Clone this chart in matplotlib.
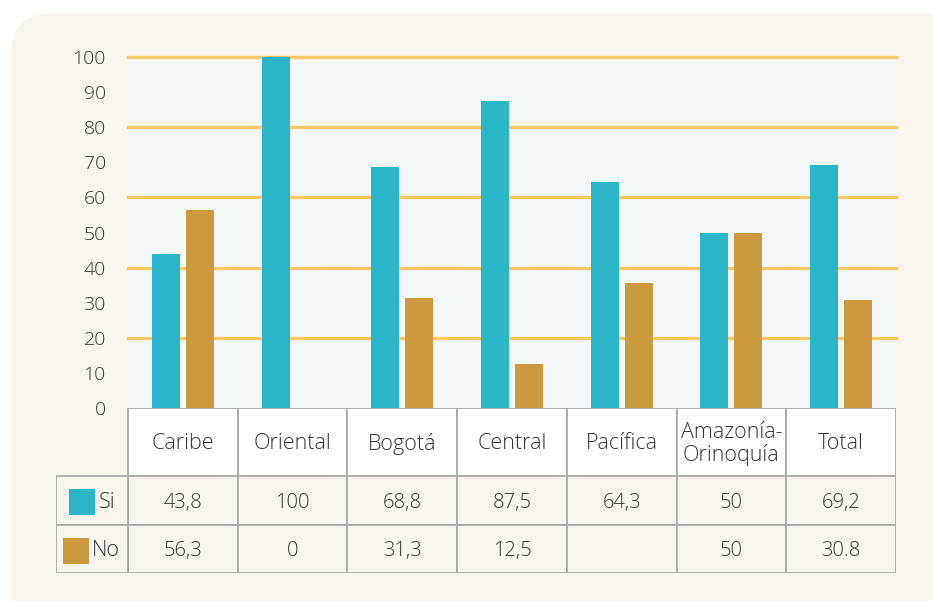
import matplotlib.pyplot as plt
from matplotlib.patches import FancyBboxPatch, Rectangle

# data
regions = ['Caribe', 'Oriental', 'Bogotá', 'Central', 'Pacífica', 'Amazonía-\nOrinoquía', 'Total']
si = [43.8, 100, 68.8, 87.5, 64.3, 50, 69.2]
no = [56.3, 0, 31.3, 12.5, 35.7, 50, 30.8]
si_labels = ['43,8', '100', '68,8', '87,5', '64,3', '50', '69,2']
no_labels = ['56,3', '0', '31,3', '12,5', '', '50', '30.8']
yticks = list(range(0, 101, 10))

c_si = '#2bb5c8'
c_no = '#cc9a3e'
txt = '#333333'
plt.rcParams['font.family'] = ['Open Sans', 'DejaVu Sans']
plt.rcParams['font.weight'] = 'light'

W, H = 933, 601
fig = plt.figure(figsize=(W / 100, H / 100), dpi=100)
fig.patch.set_facecolor('white')


def fx(px):
    return px / W


def fy(py):
    return 1 - py / H


# cream rounded panel
panel = FancyBboxPatch((fx(11), fy(640)), fx(960), fy(13) - fy(640),
                       boxstyle='round,pad=0,rounding_size=0.045',
                       transform=fig.transFigure, facecolor='#f8f5ee',
                       edgecolor='none', mutation_aspect=W / H, zorder=-5)
fig.patches.append(panel)

# bar plot area
ax = fig.add_axes([fx(128), fy(408), fx(896) - fx(128), fy(57) - fy(408)])
ax.set_facecolor('#f1f8f7')
x = [i + 0.5 for i in range(len(regions))]
bw = 0.255
ax.bar([i - 0.155 for i in x], si, width=bw, color=c_si, zorder=3)
ax.bar([i + 0.155 for i in x], no, width=bw, color=c_no, zorder=3)
for g in range(20, 101, 20):
    ax.axhline(g, color='#ffc766', lw=2.4, zorder=2, clip_on=False)
ax.set_xlim(0, 7)
ax.set_ylim(0, 100)
ax.set_yticks(yticks)
ax.set_yticklabels([str(t) for t in yticks], fontsize=14, color=txt)
ax.tick_params(axis='y', length=0, pad=16)
ax.set_xticks([])
for s in ax.spines.values():
    s.set_visible(False)

# data table below
at = fig.add_axes([fx(56), fy(573), fx(896) - fx(56), fy(408) - fy(573)])
at.set_xlim(-0.656, 7)
at.set_ylim(573, 408)
at.axis('off')
grid_c = '#aaaaaa'
for i in range(len(regions)):
    at.add_patch(Rectangle((i, 408), 1, 68, facecolor='white', edgecolor=grid_c, lw=1.3))
    at.text(i + 0.5, 444, regions[i], ha='center', va='center', fontsize=15.5, color=txt,
            linespacing=1.05)
    at.add_patch(Rectangle((i, 476), 1, 49, facecolor='#f8f5ee', edgecolor=grid_c, lw=1.3))
    at.text(i + 0.5, 503, si_labels[i], ha='center', va='center', fontsize=14.5, color=txt)
    at.add_patch(Rectangle((i, 525), 1, 48, facecolor='#f8f5ee', edgecolor=grid_c, lw=1.3))
    at.text(i + 0.5, 551, no_labels[i], ha='center', va='center', fontsize=14.5, color=txt)
at.add_patch(Rectangle((-0.656, 476), 0.656, 49, facecolor='#f8f5ee', edgecolor=grid_c, lw=1.3))
at.add_patch(Rectangle((-0.656, 525), 0.656, 48, facecolor='#f8f5ee', edgecolor=grid_c, lw=1.3))
at.add_patch(Rectangle((-0.54, 489), 0.24, 26, facecolor=c_si, edgecolor='none'))
at.text(-0.27, 503, 'Si', ha='left', va='center', fontsize=15.5, color=txt)
at.add_patch(Rectangle((-0.595, 538), 0.24, 26, facecolor=c_no, edgecolor='none'))
at.text(-0.33, 551, 'No', ha='left', va='center', fontsize=15.5, color=txt)

fig.savefig('out.png', dpi=100, facecolor=fig.get_facecolor())
